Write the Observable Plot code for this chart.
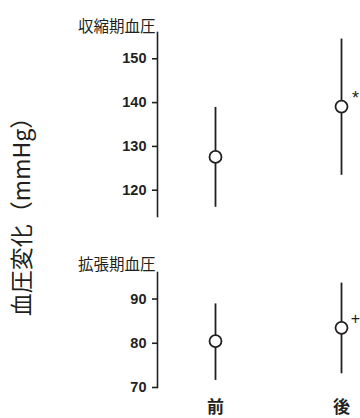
<!DOCTYPE html>
<html>
<head>
<meta charset="utf-8">
<script src="https://cdn.jsdelivr.net/npm/d3@7"></script>
<script src="https://cdn.jsdelivr.net/npm/@observablehq/plot@0.6"></script>
<style>
  html, body { margin: 0; padding: 0; background: #fff; }
  #chart { position: relative; width: 360px; height: 418px; overflow: hidden; }
  #chart svg { position: absolute; left: 0; background: transparent; }
  #ylabel {
    position: absolute; left: 20px; top: 211px;
    transform: translate(-50%, -50%) rotate(-90deg);
    white-space: nowrap; font-family: "Noto Sans CJK JP", sans-serif;
    font-size: 23px; color: #231f20;
  }
</style>
</head>
<body>
<div id="chart"><div id="ylabel">血圧変化（mmHg）</div></div>
<script>
const categories = ["前", "後"];
const sbpMean = [127.6, 139.1];
const sbpLow = [116.1, 123.4];
const sbpHigh = [138.9, 154.5];
const sbpTicks = [120, 130, 140, 150];
const sbpMarks = ["", "*"];
const dbpMean = [80.5, 83.5];
const dbpLow = [71.6, 73.1];
const dbpHigh = [88.9, 93.6];
const dbpTicks = [70, 80, 90];
const dbpMarks = ["", "+"];
const panelTitles = ["収縮期血圧", "拡張期血圧"];

const ink = "#231f20";
const cjk = "'Noto Sans CJK JP', sans-serif";
const num = "'Liberation Sans', Arial, sans-serif";

function rows(mean, lo, hi, mk) {
  return categories.map((c, i) => ({cat: c, mean: mean[i], lo: lo[i], hi: hi[i], mark: mk[i]}));
}

function panel({data, ticks, domain, title, height, marginTop, marginBottom, showX, top, markSize, markDy, titleDy}) {
  const svg = Plot.plot({
    width: 360, height, marginLeft: 157, marginRight: 10, marginTop, marginBottom,
    style: {background: "transparent", color: ink},
    x: {type: "point", domain: categories, range: [215, 341], padding: 0, axis: null, label: null},
    y: {domain, axis: null, label: null},
    marks: [
      Plot.frame({anchor: "left", stroke: ink, strokeWidth: 1.6}),
      Plot.axisY({ticks, tickSize: 5, tickPadding: 6, fontSize: 14.5, fontWeight: "bold", fontFamily: num, stroke: ink, strokeWidth: 1.6, fill: ink, label: null}),
      showX ? Plot.axisX({tickSize: 0, tickPadding: 13, fontSize: 17, fontWeight: "bold", fontFamily: cjk, fill: ink, label: null}) : null,
      Plot.text([title], {frameAnchor: "top-left", textAnchor: "end", dx: -2, dy: titleDy, fontSize: 15.5, fontFamily: cjk, fill: ink}),
      Plot.ruleX(data, {x: "cat", y1: "lo", y2: "hi", stroke: ink, strokeWidth: 1.8}),
      Plot.dot(data, {x: "cat", y: "mean", r: 6, fill: "white", stroke: ink, strokeWidth: 1.8}),
      Plot.text(data, {x: "cat", y: "mean", text: "mark", dx: 14, dy: markDy, fontSize: markSize, fontFamily: num, fill: ink})
    ]
  });
  svg.style.top = top + "px";
  document.getElementById("chart").appendChild(svg);
}

panel({data: rows(sbpMean, sbpLow, sbpHigh, sbpMarks), ticks: sbpTicks, domain: [114, 156], title: panelTitles[0], height: 220, marginTop: 32, marginBottom: 4, showX: false, top: 0, markSize: 18, markDy: -8, titleDy: -12});
panel({data: rows(dbpMean, dbpLow, dbpHigh, dbpMarks), ticks: dbpTicks, domain: [70, 96], title: panelTitles[1], height: 198, marginTop: 52, marginBottom: 31, showX: true, top: 220, markSize: 16, markDy: -9, titleDy: -14});
</script>
</body>
</html>
